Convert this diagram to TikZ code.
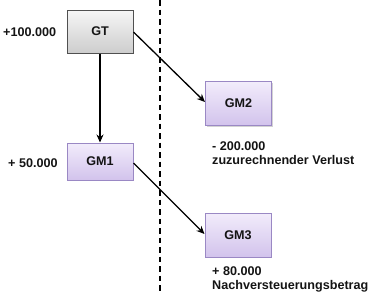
\documentclass[tikz,border=0pt]{standalone}
\usepackage{fontspec}
\setmainfont{Liberation Sans}
\usetikzlibrary{arrows.meta,shadows}
\definecolor{gtTop}{HTML}{F6F6F6}
\definecolor{gtBot}{HTML}{CDCDCD}
\definecolor{gtLine}{HTML}{505050}
\definecolor{gmTop}{HTML}{F2ECFB}
\definecolor{gmBot}{HTML}{D2C3EC}
\definecolor{gmLine}{HTML}{9A88C4}
\definecolor{txt}{HTML}{141414}
\begin{document}
\begin{tikzpicture}[x=1pt,y=-1pt,
  every node/.style={font=\fontsize{12.6}{14.5}\selectfont\bfseries, text=txt},
  gtbox/.style={draw=gtLine, line width=1pt, top color=gtTop, bottom color=gtBot,
    minimum width=66pt, minimum height=43pt, inner sep=0pt,
    drop shadow={shadow xshift=1.2pt, shadow yshift=-1.2pt, opacity=0.35}},
  gmbox/.style={draw=gmLine, line width=1pt, top color=gmTop, bottom color=gmBot,
    minimum width=66pt, minimum height=44pt, inner sep=0pt,
    drop shadow={shadow xshift=1.2pt, shadow yshift=-1.2pt, opacity=0.35}},
  gmsmall/.style={gmbox, minimum height=37pt},
  conn/.style={draw=black, line width=1.3pt, -{Stealth[length=8pt,width=7pt]}},
  lbl/.style={inner sep=0pt, align=left}
]
\useasboundingbox (0,0) rectangle (370,301);
\draw[line width=1.4pt, dash pattern=on 5.5pt off 4pt] (160,0) -- (160,294);
\node[gtbox] (gt) at (100,31.5) {GT};
\node[gmsmall] (gm1) at (100,161.5) {GM1};
\node[gmbox] (gm2) at (238.5,103.5) {GM2};
\node[gmbox] (gm3) at (238,235) {GM3};
\node[lbl, anchor=west] (v0) at (3,32) {+100.000};
\node[lbl, anchor=west] (v1) at (8,163) {+ 50.000};
\node[lbl, anchor=north west] (v2) at (212,141) {- 200.000\\zuzurechnender Verlust};
\node[lbl, anchor=north west] (v3) at (212,266) {+ 80.000\\Nachversteuerungsbetrag};
\draw[conn] (gt.south) -- (gm1.north);
\draw[conn] (gt.east |- 0,32) -- (gm2.west |- 0,102);
\draw[conn] (gm1.east |- 0,163) -- (gm3.west |- 0,234);
\end{tikzpicture}
\end{document}
